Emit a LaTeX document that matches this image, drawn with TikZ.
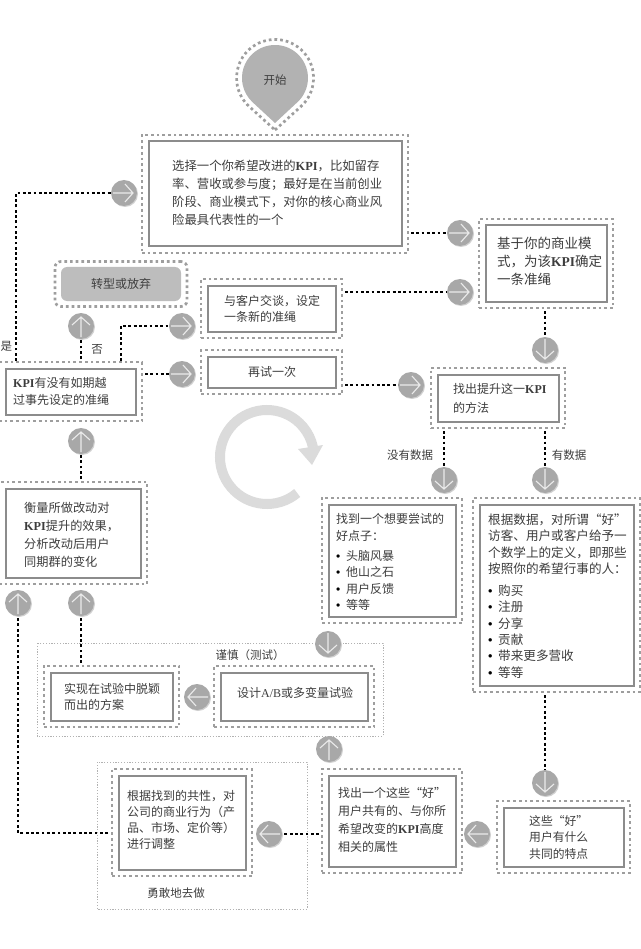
\documentclass[tikz,border=0pt]{standalone}
\usepackage{fontspec}
\setmainfont{Noto Sans CJK SC}
\newfontfamily\latinserif{Liberation Serif}
\newcommand{\kpi}{{\latinserif\bfseries KPI}}
\newcommand{\ab}{{\latinserif A/B}}
\newcommand{\blt}{\makebox[10pt][l]{\latinserif\bfseries\textcolor{black}{•}}}
\usetikzlibrary{shadows}
\begin{document}
\begin{tikzpicture}[x=1pt, y=-1pt,
  dotframe/.style={draw=black!38, line width=2.7pt, dash pattern=on 2.7pt off 3pt, inner sep=0pt, outer sep=0pt},
  solidframe/.style={draw=black!45, line width=2pt, fill=white, inner sep=0pt, outer sep=0pt},
  groupframe/.style={draw=black!30, line width=0.7pt, dash pattern=on 1.2pt off 1.6pt},
  disc/.style={circle, fill=black!34, minimum size=26pt, inner sep=0pt, outer sep=0pt,
    general shadow={shadow xshift=1pt, shadow yshift=-1pt, fill=black!18}},
  discarrow/.style={draw=white!92!black, line width=1.1pt},
  link/.style={draw=black, line width=2.8pt, dash pattern=on 2.8pt off 2.5pt},
  txt/.style 2 args={font=\fontsize{#1}{#2}\selectfont, text=black!76, align=left, anchor=west, inner sep=0pt},
  tag/.style={font=\fontsize{11.5}{14}\selectfont, text=black!76, inner sep=0pt}]
\useasboundingbox (0,0) rectangle (640,949);

%--- Group frames ---
\draw[groupframe] (37,643) rectangle (383,736);
\draw[groupframe] (97,762) rectangle (307,909);

%--- Cycle sign ---
\draw[black!14, line width=10pt] (297.2,493) arc[start angle=-50, end angle=-348, radius=47pt];
\fill[black!14] (298,449) -- (323,445) -- (312,465) -- cycle;

%--- Start ---
\draw[dotframe, fill=white] (275,130) -- (300.9,106.5)
  arc[start angle=-47.8, end angle=227.8, radius=38.5pt] -- cycle;
\fill[black!30] (275,123) -- (297.4,102.2)
  arc[start angle=-47.2, end angle=227.2, radius=33pt] -- cycle;
\node[tag] (start) at (275,80) {开始};

%--- Boxes: outer dots and inner line ---
\foreach \nm/\xl/\yt/\xr/\yb in {pick/142/135/408/253, setbar/479/219/613/308,
    talk/201/279/342/338, retry/201/350/342/394, check/-1/362/142/421,
    findway/431/368/565/428, measure/-1/482/147/584, idea/322/498/462/623,
    define/473/498/640/692, traits/497/801/630/873, attr/322/769/462/873,
    design/214/666/374/727, trial/44/666/179/727, adjust/112/769/252/876}{
  \pgfmathsetmacro{\bw}{\xr-\xl}
  \pgfmathsetmacro{\bh}{\yb-\yt}
  \pgfmathsetmacro{\xm}{(\xl+\xr)/2}
  \pgfmathsetmacro{\ym}{(\yt+\yb)/2}
  \node[dotframe, minimum width=\bw pt, minimum height=\bh pt] (\nm) at (\xm,\ym) {};
  \node[solidframe, minimum width=\bw pt-13pt, minimum height=\bh pt-13pt] at (\xm,\ym) {};
}

%--- Grey box ---
\node[dotframe, rounded corners=6pt, minimum width=132pt, minimum height=45pt] (pivot) at (121,284) {};
\node[fill=black!26, rounded corners=6pt, minimum width=120pt, minimum height=34pt, inner sep=0pt] at (121,284) {};
\node[tag, font=\fontsize{12}{14}\selectfont] (pivottext) at (121,284) {转型或放弃};

%--- Discs ---
\foreach \nm/\xp/\yp/\ang in {a1/124/193/0, a2/460/233/0, a3/460/292/0, a4/545/350/-90,
    a5/411/385/0, a6/444/480/-90, a7/545/480/-90, a8/81/326/90, a9/182/326/0,
    a10/182/374/0, a11/81/441/90, a12/18/603/90, a13/81/603/90, a14/328/644/-90,
    a15/197/697/180, a16/329/749/90, a17/269/834/180, a18/477/834/180, a19/545/783/-90}{
  \node[disc] (\nm) at (\xp,\yp) {};
  \draw[discarrow, shift={(\xp,\yp)}, rotate=\ang]
    (-11,0) -- (9,0) (1,-9) -- (9,0) -- (1,9);
}

%--- Links ---
\coordinate (yesend) at (16,361);
\coordinate (noend) at (121,361);
\coordinate (adjustend) at (108,833);
\draw[link] (yesend) |- (a1);
\draw[link] (noend) |- (a9);
\draw[link] (adjustend) -| (a12);
\draw[link, shorten <=3pt] (pick.east |- a2) -- (a2);
\draw[link, shorten <=3pt] (talk.east |- a3) -- (a3);
\draw[link, shorten <=3pt] (retry.east |- a5) -- (a5);
\draw[link, shorten <=3pt] (check.east |- a10) -- (a10);
\draw[link, shorten <=3pt] (setbar.south -| a4) -- (a4);
\draw[link, shorten <=3pt] (findway.south -| a6) -- (a6);
\draw[link, shorten <=3pt] (findway.south -| a7) -- (a7);
\draw[link, shorten <=3pt] (check.north -| a8) -- (a8);
\draw[link, shorten <=3pt] (measure.north -| a11) -- (a11);
\draw[link, shorten <=3pt] (trial.north -| a13) -- (a13);
\draw[link, shorten <=3pt] (define.south -| a19) -- (a19);
\draw[link, shorten <=3pt] (attr.west |- a17) -- (a17);

%--- Texts ---
\node[txt={12.35}{18}] (picktext) at (172,193) {选择一个你希望改进的\kpi，比如留存\\率、营收或参与度；最好是在当前创业\\阶段、商业模式下，对你的核心商业风\\险最具代表性的一个};
\node[txt={13.5}{18}] (setbartext) at (497,261) {基于你的商业模\\式，为该\kpi 确定\\一条准绳};
\node[txt={12}{16}] (talktext) at (224,309) {与客户交谈，设定\\一条新的准绳};
\node[txt={12}{16}] (retrytext) at (248,372) {再试一次};
\node[txt={12}{17}] (checktext) at (13,391) {\kpi 有没有如期越\\过事先设定的准绳};
\node[txt={12}{19}] (findwaytext) at (453,398) {找出提升这一\kpi\\的方法};
\node[txt={12.2}{18}] (measuretext) at (24,535) {衡量所做改动对\\\kpi 提升的效果，\\分析改动后用户\\同期群的变化};
\node[txt={12}{16.3}] (ideatext) at (336,562) {找到一个想要尝试的\\好点子：\\[4pt]\blt 头脑风暴\\\blt 他山之石\\\blt 用户反馈\\\blt 等等};
\node[txt={12.6}{16.3}] (definetext) at (488,596) {根据数据，对所谓“好”\\访客、用户或客户给予一\\个数学上的定义，即那些\\按照你的希望行事的人：\\[6pt]\blt 购买\\\blt 注册\\\blt 分享\\\blt 贡献\\\blt 带来更多营收\\\blt 等等};
\node[txt={11.8}{16.5}] (traitstext) at (529,837) {这些“好”\\用户有什么\\共同的特点};
\node[txt={12}{18}] (attrtext) at (338,820) {找出一个这些“好”\\用户共有的、与你所\\希望改变的\kpi 高度\\相关的属性};
\node[txt={12}{16}] (designtext) at (237,693) {设计\ab 或多变量试验};
\node[txt={12}{16}] (trialtext) at (64,697) {实现在试验中脱颖\\而出的方案};
\node[txt={12}{16}] (adjusttext) at (127,820) {根据找到的共性，对\\公司的商业行为（产\\品、市场、定价等）\\进行调整};

%--- Tags ---
\node[tag] (yes) at (6.5,346) {是};
\node[tag] (no) at (97,349) {否};
\node[tag] (nodata) at (410,455) {没有数据};
\node[tag] (hasdata) at (569,455) {有数据};
\node[tag] (caution) at (250,655) {谨慎（测试）};
\node[tag] (bold) at (176,893) {勇敢地去做};

\end{tikzpicture}
\end{document}
